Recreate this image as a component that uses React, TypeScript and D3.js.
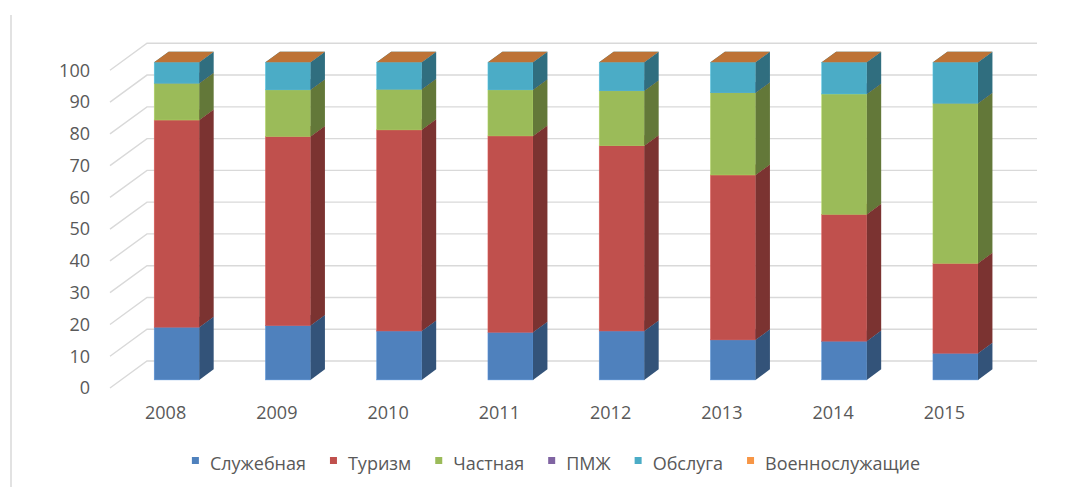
import React, { useRef, useEffect } from "react";
import * as d3 from "d3";

// categories and series (percent shares)
const years = ["2008", "2009", "2010", "2011", "2012", "2013", "2014", "2015"];
const seriesNames = ["Служебная", "Туризм", "Частная", "ПМЖ", "Обслуга", "Военнослужащие"];
const seriesColors = ["#4F81BD", "#C0504D", "#9BBB59", "#8064A2", "#4BACC6", "#F79646"];

const sluzhebnaya = [16.6, 17.1, 15.4, 15.0, 15.4, 12.6, 12.2, 8.4];
const turizm = [65.2, 59.5, 63.3, 61.8, 58.3, 51.9, 39.9, 28.3];
const chastnaya = [11.6, 14.7, 12.8, 14.5, 17.3, 25.9, 37.9, 50.4];
const pmzh = [0, 0, 0, 0, 0, 0, 0, 0];
const obsluga = [6.6, 8.7, 8.5, 8.7, 9.0, 9.6, 10.0, 12.9];
const voennye = [0, 0, 0, 0, 0, 0, 0, 0];

const yTicks = [0, 10, 20, 30, 40, 50, 60, 70, 80, 90, 100];

const W = 1085;
const H = 487;
const textColor = "#595959";
const gridColor = "#D9D9D9";
const font = "'Open Sans', sans-serif";

export default function App() {
  const svgRef = useRef<SVGSVGElement>(null);

  useEffect(() => {
    const svg = d3.select(svgRef.current);
    svg.selectAll("*").remove();

    const allSeries = [sluzhebnaya, turizm, chastnaya, pmzh, obsluga, voennye];
    const table = years.map((yr, i) => {
      const row: any = { year: yr };
      seriesNames.forEach((n, k) => (row[n] = allSeries[k][i]));
      return row;
    });
    const stacked = d3.stack().keys(seriesNames)(table);

    // front plane of the floor
    const x = d3
      .scaleBand()
      .domain(years)
      .range([110, 1000])
      .paddingInner(0.595)
      .paddingOuter(0.2975);
    const y = d3.scaleLinear().domain([0, 100]).range([388, 70.3]);
    // oblique depth: 0 = front, 1 = back wall
    const depthX = d3.scaleLinear().domain([0, 1]).range([0, 37]);
    const depthY = d3.scaleLinear().domain([0, 1]).range([0, 27]);
    const proj = (px: number, py: number, z: number) => [px + depthX(z), py - depthY(z)];
    const barFront = 0.3;
    const barBack = 0.69;

    // left frame line
    svg.append("line")
      .attr("x1", 11).attr("x2", 11).attr("y1", 15).attr("y2", H)
      .attr("stroke", gridColor).attr("stroke-width", 1.5);

    // gridlines: side wall diagonals + back wall
    const grid = svg.append("g").attr("stroke", gridColor).attr("stroke-width", 1.4).attr("fill", "none");
    const [xl, xr] = x.range();
    yTicks.forEach((t) => {
      const a = proj(xl, y(t), 0);
      const b = proj(xl, y(t), 1);
      const c = proj(xr, y(t), 1);
      grid.append("path").attr("d", `M${a[0]},${a[1]}L${b[0]},${b[1]}L${c[0]},${c[1]}`);
    });

    // y tick labels
    svg.append("g")
      .selectAll("text")
      .data(yTicks)
      .join("text")
      .attr("x", 90)
      .attr("y", (d) => y(d))
      .attr("dy", "0.35em")
      .attr("text-anchor", "end")
      .attr("font-family", font)
      .attr("font-size", 18)
      .attr("fill", textColor)
      .text((d) => d);

    // category labels
    svg.append("g")
      .selectAll("text")
      .data(years)
      .join("text")
      .attr("x", (d) => (x(d) as number) + x.bandwidth() / 2)
      .attr("y", y(0) + 25)
      .attr("dy", "0.35em")
      .attr("text-anchor", "middle")
      .attr("font-family", font)
      .attr("font-size", 18)
      .attr("fill", textColor)
      .text((d) => d);

    // 3d stacked bars
    const bars = svg.append("g");
    years.forEach((yr, i) => {
      const bx0 = (x(yr) as number) + depthX(barFront);
      const bx1 = bx0 + x.bandwidth();
      const dx = depthX(barBack) - depthX(barFront);
      const dy = depthY(barBack) - depthY(barFront);
      const g = bars.append("g");
      stacked.forEach((layer, k) => {
        const seg = layer[i];
        const yb = y(seg[0]) - depthY(barFront);
        const yt = y(seg[1]) - depthY(barFront);
        const col = seriesColors[k];
        if (yb - yt > 0.01) {
          g.append("rect")
            .attr("x", bx0).attr("y", yt)
            .attr("width", bx1 - bx0).attr("height", yb - yt)
            .attr("fill", col)
            .attr("stroke", d3.color(col)!.brighter(0.4).formatHex())
            .attr("stroke-width", 0.5);
          g.append("path")
            .attr("d", `M${bx1},${yt}L${bx1 + dx},${yt - dy}L${bx1 + dx},${yb - dy}L${bx1},${yb}Z`)
            .attr("fill", d3.color(col)!.darker(1.25).formatHex());
        }
        g.append("path")
          .attr("d", `M${bx0},${yt}L${bx1},${yt}L${bx1 + dx},${yt - dy}L${bx0 + dx},${yt - dy}Z`)
          .attr("fill", d3.color(col)!.darker(0.75).formatHex());
      });
    });

    // legend, laid out from measured text widths and centred
    const legend = svg.append("g");
    let cursor = 0;
    seriesNames.forEach((n, k) => {
      const item = legend.append("g").attr("transform", `translate(${cursor},0)`);
      item.append("rect")
        .attr("x", 0).attr("y", -13)
        .attr("width", 7).attr("height", 7)
        .attr("fill", seriesColors[k]);
      const t = item.append("text")
        .attr("x", 18).attr("y", 0)
        .attr("font-family", font)
        .attr("font-size", 18)
        .attr("fill", textColor)
        .text(n);
      const w = (t.node() as SVGTextElement).getComputedTextLength();
      cursor += 18 + w + 24;
    });
    const total = cursor - 24;
    legend.attr("transform", `translate(${556 - total / 2},470)`);
  }, []);

  return (
    <svg
      ref={svgRef}
      width={W}
      height={H}
      style={{ position: "absolute", left: 0, top: 0, background: "#fff" }}
    />
  );
}
